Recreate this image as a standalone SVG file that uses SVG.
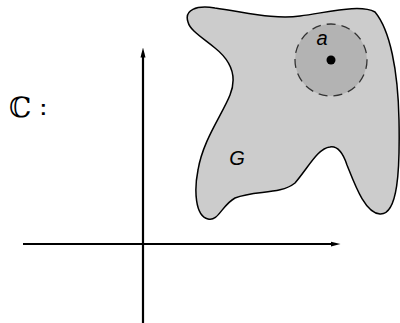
<svg xmlns="http://www.w3.org/2000/svg" width="400" height="323" viewBox="0 0 400 323">
<style>
.axis{stroke:#000;stroke-width:2.2;fill:none}
.lbl{font-family:"Liberation Sans",Arial,sans-serif;font-style:italic;font-size:20px;fill:#000}
</style>
<defs>
<marker id="ah" markerWidth="10" markerHeight="10" refX="9" refY="5" orient="auto" markerUnits="userSpaceOnUse" viewBox="0 0 20 10">
<path d="M0,0 L20,5 L0,10 Z" fill="#000"/>
</marker>
</defs>
<g id="region-G">
<path d="M188,22 C184,10 196,5 215,8 C245,12 275,20 300,16 C330,12 360,4 375,12 C390,30 398,70 399,120 C400,170 398,215 380,214 C365,213 355,185 347,165 C342,150 336,146 330,147 C318,148 308,168 295,183 C280,195 255,190 235,198 C222,205 218,222 208,219 C195,216 194,190 198,170 C203,140 222,115 230,95 C238,75 230,60 215,48 C200,36 190,30 188,22 Z" fill="#cccccc" stroke="#000" stroke-width="1.5"/>
<text class="lbl" x="237" y="165" text-anchor="middle">G</text>
</g>
<g id="disk-a">
<circle cx="331" cy="60" r="36" fill="#b3b3b3" stroke="#333" stroke-width="1.3" stroke-dasharray="9 6"/>
<circle cx="331" cy="60" r="4.5" fill="#000"/>
<text class="lbl" x="322" y="45" text-anchor="middle">a</text>
</g>
<g id="label-C">
<text x="9" y="117" font-family="DejaVu Serif,serif" font-size="28">ℂ</text>
<text x="40" y="115" font-family="Liberation Sans,Arial,sans-serif" font-weight="bold" font-size="20">:</text>
</g>
<g id="connectors">
<path class="axis" d="M23,244 L335,244" marker-end="url(#ah)"/>
<path class="axis" d="M143,323 L143,53" marker-end="url(#ah)"/>
</g>
</svg>
